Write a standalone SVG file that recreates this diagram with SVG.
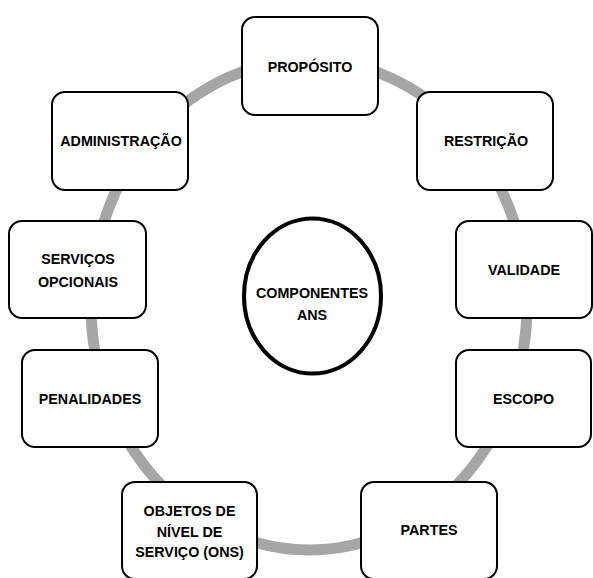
<svg xmlns="http://www.w3.org/2000/svg" width="593" height="578" viewBox="0 0 593 578">
<style>
.box{fill:#fff;stroke:#000;stroke-width:2}
.t{font-family:"Liberation Sans",Arial,sans-serif;font-weight:bold;font-size:14.3px;fill:#000;text-anchor:middle}
.ring{fill:none;stroke:#a6a6a6;stroke-width:11}
</style>
<rect width="593" height="578" fill="#fff"/>
<g id="connectors">
<ellipse class="ring" cx="309" cy="305" rx="218" ry="245"/>
</g>
<g id="center">
<ellipse cx="312.5" cy="296" rx="68.5" ry="77.5" fill="#fff" stroke="#000" stroke-width="4"/>
<text class="t" x="312" y="298">COMPONENTES</text>
<text class="t" x="312" y="320">ANS</text>
</g>
<g id="proposito">
<rect class="box" x="242" y="17" width="136" height="98" rx="13"/>
<text class="t" x="310" y="72">PROPÓSITO</text>
</g>
<g id="restricao">
<rect class="box" x="417" y="92" width="136" height="98" rx="13"/>
<text class="t" x="486" y="146">RESTRIÇÃO</text>
</g>
<g id="validade">
<rect class="box" x="456" y="221" width="136" height="97" rx="13"/>
<text class="t" x="524" y="275">VALIDADE</text>
</g>
<g id="escopo">
<rect class="box" x="456" y="350" width="135" height="97" rx="13"/>
<text class="t" x="523.5" y="404">ESCOPO</text>
</g>
<g id="partes">
<rect class="box" x="361" y="482" width="136" height="97" rx="13"/>
<text class="t" x="429" y="535">PARTES</text>
</g>
<g id="objetos">
<rect class="box" x="122" y="482" width="135" height="97" rx="13"/>
<text class="t" x="189.5" y="516">OBJETOS DE</text>
<text class="t" x="189.5" y="537">NÍVEL DE</text>
<text class="t" x="189.5" y="557">SERVIÇO (ONS)</text>
</g>
<g id="penalidades">
<rect class="box" x="22" y="350" width="136" height="97" rx="13"/>
<text class="t" x="90" y="404">PENALIDADES</text>
</g>
<g id="servicos">
<rect class="box" x="9" y="221" width="137" height="97" rx="13"/>
<text class="t" x="78" y="264">SERVIÇOS</text>
<text class="t" x="78" y="287">OPCIONAIS</text>
</g>
<g id="administracao">
<rect class="box" x="52" y="92" width="136" height="98" rx="13"/>
<text class="t" x="121" y="146">ADMINISTRAÇÃO</text>
</g>
</svg>
